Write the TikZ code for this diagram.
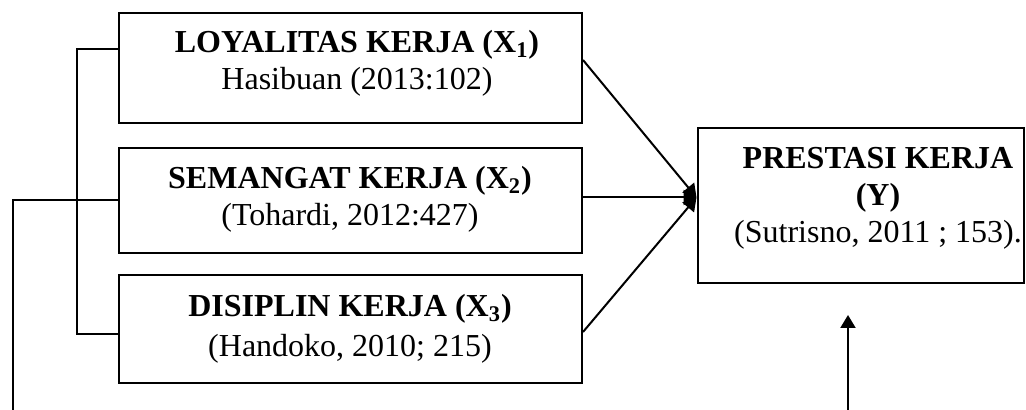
\documentclass[tikz,border=0pt]{standalone}
\usepackage{fontspec}
\setmainfont{Liberation Serif}
\usepackage{tikz}
\usetikzlibrary{calc,arrows.meta}
\definecolor{ink}{HTML}{000000}
\tikzset{
  box/.style={draw=ink, line width=1pt, inner sep=0pt},
  txt/.style={text=ink, align=center, inner sep=0pt, font=\fontsize{16}{18.5}\selectfont},
  link/.style={draw=ink, line width=1pt},
  arr/.style={link, -{Triangle[length=6.5pt,width=7.5pt]}},
}

\begin{document}
\begin{tikzpicture}[x=0.5pt,y=-0.5pt]
  \useasboundingbox (0,0) rectangle (1026,410);
  % variable boxes
  \node[box,minimum width=231.5pt,minimum height=55pt] (x1) at (350.5,68) {};
  \node[box,minimum width=231.5pt,minimum height=52.5pt] (x2) at (350.5,200.5) {};
  \node[box,minimum width=231.5pt,minimum height=54pt] (x3) at (350.5,329) {};
  \node[box,minimum width=163pt,minimum height=77.5pt] (y) at (860.5,205.5) {};
  \node[txt] (x1t) at (357,63.5) {\textbf{LOYALITAS KERJA (X\textsubscript{1})}\\Hasibuan (2013:102)};
  \node[txt] (x2t) at (350,199.5) {\textbf{SEMANGAT KERJA (X\textsubscript{2})}\\(Tohardi, 2012:427)};
  \node[txt,font=\fontsize{16}{20}\selectfont] (x3t) at (350,328.5) {\textbf{DISIPLIN KERJA (X\textsubscript{3})}\\(Handoko, 2010; 215)};
  \node[txt] (yt) at (878,198) {\textbf{PRESTASI KERJA}\\\textbf{(Y)}\\(Sutrisno, 2011 ; 153).};
  % arrows into Y
  \coordinate (yin) at ($(y.west)+(0,-8)$);
  \draw[arr] ($(x1.east)+(0,-8)$) -- (yin);
  \draw[arr] (x2.east |- yin) -- (yin);
  \draw[arr] ($(x3.east)+(0,3)$) -- (yin);
  % left bracket
  \coordinate (bt) at (77,49);
  \coordinate (bb) at (77,334);
  \draw[link] (x1.west |- bt) -- (bt) -- (bb) -- (x3.west |- bb);
  \coordinate (lb) at (13,410);
  \draw[link] (lb) |- (x2.west);
  % arrow from below
  \coordinate (eb) at (848,410);
  \coordinate (et) at (848,315);
  \draw[arr] (eb) -- (et);
\end{tikzpicture}
\end{document}
